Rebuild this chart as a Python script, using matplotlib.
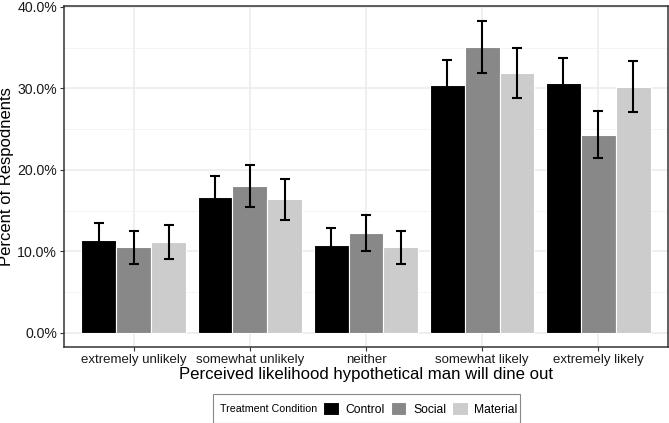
import matplotlib.pyplot as plt
from matplotlib.patches import Rectangle
from matplotlib.ticker import PercentFormatter, MultipleLocator
import numpy as np

plt.rcParams['font.family'] = ['Liberation Sans', 'DejaVu Sans']

# datos
categories = ["extremely unlikely", "somewhat unlikely", "neither",
              "somewhat likely", "extremely likely"]
conditions = ["Control", "Social", "Material"]
colors = ["#000000", "#888888", "#cccccc"]

control = [0.114, 0.167, 0.108, 0.304, 0.307]
social = [0.105, 0.180, 0.122, 0.351, 0.243]
material = [0.111, 0.164, 0.105, 0.319, 0.302]

control_err = [0.021, 0.025, 0.021, 0.031, 0.030]
social_err = [0.020, 0.026, 0.022, 0.032, 0.029]
material_err = [0.021, 0.025, 0.020, 0.031, 0.031]

values = [control, social, material]
errors = [control_err, social_err, material_err]

fig = plt.figure(figsize=(6.69, 4.23), dpi=100)
ax = fig.add_axes([0.0957, 0.180, 0.9028, 0.8058])

x = np.arange(1, len(categories) + 1)
w = 0.3
for i, (vals, errs) in enumerate(zip(values, errors)):
    pos = x + (i - 1) * w
    ax.bar(pos, vals, width=w, color=colors[i], edgecolor="white",
           linewidth=0.8, zorder=2, label=conditions[i])
    ax.errorbar(pos, vals, yerr=errs, fmt="none", ecolor="black",
                elinewidth=1.5, capsize=3.6, capthick=1.5, zorder=3)

ax.set_xlim(0.4, 5.6)
ax.set_ylim(-0.0172, 0.401)
ax.yaxis.set_major_locator(MultipleLocator(0.1))
ax.yaxis.set_minor_locator(MultipleLocator(0.05))
ax.yaxis.set_major_formatter(PercentFormatter(1.0, decimals=1))
ax.set_xticks(x)
ax.set_xticklabels(categories)

ax.grid(True, which="major", color="#ebebeb", linewidth=1.1, zorder=0)
ax.grid(True, which="minor", axis="y", color="#f2f2f2", linewidth=0.6, zorder=0)
ax.set_axisbelow(True)
for s in ax.spines.values():
    s.set_color("#333333")
    s.set_linewidth(1.1)

ax.tick_params(axis="both", which="major", length=3, width=0.8,
               color="#333333", labelcolor="#1a1a1a", pad=2)
ax.tick_params(axis="x", labelsize=9.5)
ax.tick_params(axis="y", labelsize=10.2)
ax.tick_params(axis="y", which="minor", length=0)

ax.set_xlabel("Perceived likelihood hypothetical man will dine out",
              fontsize=12.1, labelpad=1)
ax.set_ylabel("Percent of Respodnents", fontsize=12, labelpad=2)

# leyenda horizontal con titulo a la izquierda
handles, labels = ax.get_legend_handles_labels()
leg = fig.legend(handles, labels, loc="center left",
                 bbox_to_anchor=(323 / 669, 1 - 409 / 423), ncol=3,
                 frameon=False, fontsize=8.7, handlelength=1.3,
                 handleheight=1.3, handletextpad=0.55, columnspacing=0.5,
                 borderaxespad=0, borderpad=0)
fig.text(220 / 669, 1 - 409 / 423, "Treatment Condition", fontsize=7.7,
         va="center", ha="left")
fig.patches.append(Rectangle((213 / 669, 0.0), (520 - 213) / 669,
                             (423 - 394) / 423, transform=fig.transFigure,
                             fill=False, edgecolor="#888888", linewidth=0.8))

fig.savefig("out.png", dpi=100)
